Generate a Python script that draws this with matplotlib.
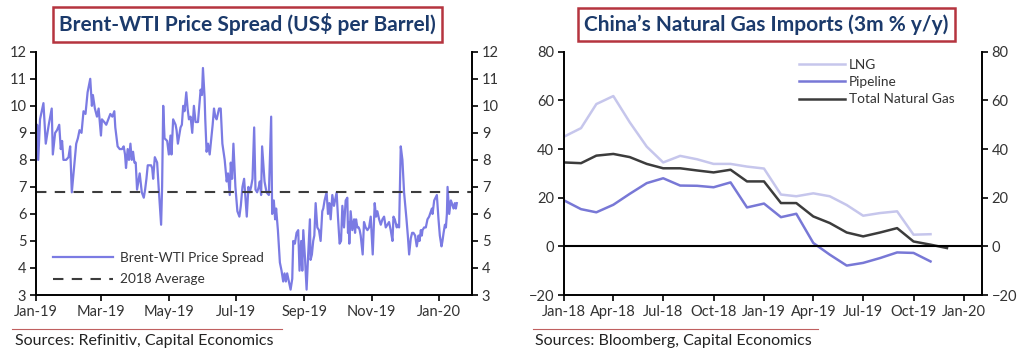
import numpy as np
import pandas as pd
import matplotlib
matplotlib.use("Agg")
import matplotlib.pyplot as plt
import matplotlib.dates as mdates

plt.rcParams['font.family'] = ['Lato', 'DejaVu Sans']

# Brent-WTI spread, days counted from 1 Jan 2019
spread_days = [
    0, 1, 2, 3.6, 6.7, 8.8, 11.5, 14.2, 15.2, 17.3, 19, 21, 22.4, 23.6, 24.8, 27.3, 29.4, 30.9,
    32.4, 34.2, 36.4, 37.9, 39.4, 41.2, 43, 44.8, 46.7, 49.1, 50.6, 51.5, 53.3, 55.2, 56.7, 58.8,
    59.7, 61.8, 63.6, 65.5, 67.3, 69.1, 70.9, 71.8, 73.9, 75.8, 77.9, 79.4, 80.6, 81.5, 83, 84.2,
    85.5, 86.7, 87.9, 89.1, 90.3, 91.5, 93.9, 95.8, 97.6, 98.8, 100, 101.2, 104.2, 105.2, 106.1,
    107.6, 109.7, 111.2, 113.3, 114.2, 115.2, 116.4, 118.8, 120.3, 121.8, 122.7, 124.2, 126.4,
    127.3, 128.5, 130.9, 132.1, 133.3, 134.5, 136.1, 137.3, 138.5, 140, 141.5, 142.4, 143, 144.5,
    146.7, 149.1, 150.3, 151.2, 152.7, 153.3, 154.5, 155.8, 157.3, 158.8, 160, 161.2, 162.4,
    163.6, 165.8, 167.3, 168.8, 170.9, 172.7, 173.9, 175.5, 176.4, 177.6, 178.8, 180.6, 182.4,
    184.2, 185.5, 187, 188.5, 189.7, 190.9, 192.4, 193.6, 194.8, 196.1, 197.6,
    198.8, 200.3, 201.8, 202.7, 203.9, 204.8, 207, 208.8, 210.9, 213, 213.9, 215.4, 216.6, 217.5,
    219.1, 220.9, 222.4, 223.9, 225.1, 226.3, 227.5, 229.1, 230.6, 232.1, 233, 234.5, 236, 237.5,
    238.7, 240.2, 241.2, 242.1, 243.6, 245.1, 246.3, 248.1, 248.7, 249.9, 251.1, 252.1, 253.3,
    254.8, 256.3, 257.8, 259.3, 260.2, 261.4, 263.2, 264.5, 265.7, 266.9, 268.4, 269.9, 272.3,
    273.5, 275, 276.3, 277.5, 279, 280.5, 282, 282.6, 283.2, 283.8, 285, 286.5, 288.1, 289, 289.9,
    291.1, 292.3, 293.2, 294.1, 295.9, 297.1, 298.6, 300.2, 301.7, 303.2, 305, 306.8, 308, 309.2,
    310.8, 312.3, 313.8, 315.3, 316.8, 318.3, 319.8, 321.3, 322.9, 323.8, 325, 326.2, 326.8,
    327.4, 328.9, 330.4, 331.9, 333.4, 335.6, 336.8, 338, 339.5, 340.7, 341.9, 343.4, 344.9,
    346.5, 347.4, 348.6, 349.5, 350.1, 351.6, 353.1, 354.6, 356.1, 357.7, 358.6, 359.2, 360.7,
    363.1, 364.6, 365.8, 367.3, 368.2, 369.2, 370.4, 371, 371.3, 372.2, 372.8, 374.3, 375.8,
    376.7, 378.2, 379.4, 380.3, 381.2,
]
spread = [
    8.0, 9.3, 8.0, 9.5, 10.1, 8.6, 9.3, 9.9, 8.2, 9.0, 9.1, 9.3, 8.4, 8.7, 8.0, 8.0, 8.1, 8.5,
    6.8, 7.6, 8.6, 8.8, 9.1, 9.0, 9.8, 9.7, 10.5, 11.0, 10.0, 10.4, 9.9, 9.6, 9.9, 8.9,
    9.5, 9.4, 9.3, 9.5, 9.7, 9.6, 9.8, 9.2, 8.5, 8.4, 8.4, 8.5, 8.2, 7.7, 8.4, 8.0,
    8.6, 8.0, 8.3, 7.9, 7.9, 6.9, 7.5, 6.8, 6.6, 6.9, 7.3, 7.8, 7.8, 7.7, 7.3,
    8.1, 7.9, 6.9, 5.6, 7.0, 10.0, 8.8, 8.7, 8.2, 8.9, 8.2, 9.5, 9.3,
    9.1, 8.6, 9.2, 9.3, 10.0, 9.8, 10.5, 9.9, 9.5, 9.6, 9.0, 9.6, 10.0, 9.4,
    9.4, 10.6, 10.4, 11.4, 10.3, 9.5, 8.3, 8.6, 8.2, 8.8, 9.3, 9.9, 9.6,
    9.5, 9.9, 9.9, 8.6, 8.0, 7.2, 7.5, 6.7, 7.9, 7.3, 8.6, 7.0, 6.1,
    5.9, 6.3, 7.0, 7.3, 6.6, 5.9, 7.0, 6.8, 7.0, 7.3, 9.2,
    6.9, 6.8, 7.0, 7.2, 6.7, 8.5, 7.2, 6.8, 6.7, 9.6, 6.0, 6.5, 5.8, 6.2,
    5.4, 4.2, 3.9, 3.5, 3.8, 3.5, 3.8, 3.5, 3.2, 3.6, 5.0, 4.9, 5.3, 5.4,
    3.9, 5.0, 3.9, 5.4, 4.4, 3.2, 4.3, 5.8, 4.3, 4.5, 5.0, 5.2, 6.4,
    5.5, 5.4, 5.0, 6.1, 6.2, 6.5, 6.8, 6.0, 6.4, 5.8, 6.7, 6.3, 6.8,
    5.9, 4.9, 5.0, 6.3, 5.5, 6.5, 6.6, 5.3, 5.7, 4.9, 6.1, 5.4, 5.8, 5.3, 5.8,
    5.5, 5.5, 5.4, 5.2, 4.5, 5.7, 5.5, 5.4, 5.5, 5.9, 4.5, 6.4, 5.9, 6.1,
    5.8, 5.6, 5.8, 5.9, 5.5, 5.6, 5.7, 5.4, 5.0, 5.9, 5.8, 5.6, 5.5,
    5.6, 5.5, 8.5, 8.0, 6.8, 5.8, 5.2, 4.5, 5.1, 5.3, 5.3, 5.2, 4.8,
    5.2, 5.0, 5.4, 5.2, 5.4, 5.5, 5.5, 5.8, 5.9, 6.1, 6.2, 6.0, 6.5,
    6.7, 5.8, 5.2, 4.8, 5.0, 5.3, 5.6, 5.6, 5.5, 6.0, 7.0, 6.0, 6.5,
    6.4, 6.2, 6.4, 6.2, 6.4,
]
avg_2018 = 6.8

# China natural gas imports, monthly from Jan-18
gas_months = pd.date_range("2018-01-01", "2019-12-01", freq="MS")
lng = [45.1, 48.6, 58.5, 61.8, 51.0, 41.0, 34.5, 37.2, 35.8, 33.9, 33.9, 32.8,
       32.0, 21.3, 20.6, 21.8, 20.6, 17.0, 12.6, 13.7, 14.4, 4.8, 5.0, np.nan]
pipeline = [18.9, 15.3, 14.0, 17.1, 21.6, 26.0, 28.0, 25.0, 24.9, 24.3, 26.3, 16.0,
            17.6, 12.0, 13.4, 1.4, -3.4, -7.9, -6.8, -4.8, -2.5, -2.7, -6.2, np.nan]
total = [34.5, 34.2, 37.3, 38.0, 36.7, 33.9, 32.1, 32.1, 31.2, 30.4, 31.5, 26.7,
         26.7, 17.8, 17.8, 12.3, 9.6, 5.7, 4.1, 5.7, 7.5, 2.0, 0.7, -0.7]

title_color = "#1b3a6b"
box_color = "#b5343f"
spread_color = "#7b7be3"
lng_color = "#c6c6ec"
pipe_color = "#7878d6"
dark = "#3c3c3c"

fig = plt.figure(figsize=(10.24, 3.53), dpi=100)
ax1 = fig.add_axes([0.0352, 0.1643, 0.4258, 0.689])
ax2 = fig.add_axes([0.5508, 0.1643, 0.4082, 0.689])

start = pd.Timestamp("2019-01-01")
spread_dates = start + pd.to_timedelta(spread_days, unit="D")
ax1.plot(spread_dates, spread, color=spread_color, lw=1.6, label="Brent-WTI Price Spread")
ax1.axhline(avg_2018, color=dark, lw=1.5, ls=(0, (5, 4)), label="2018 Average")
ax1.set_xlim(start, pd.Timestamp("2020-01-31"))
ax1.set_ylim(3, 12)
ax1.set_yticks(range(3, 13))
ax1.xaxis.set_major_locator(mdates.MonthLocator(bymonth=[1, 3, 5, 7, 9, 11]))
ax1.xaxis.set_major_formatter(mdates.DateFormatter("%b-%y"))
ax1.legend(loc="lower left", bbox_to_anchor=(0.018, 0.0), frameon=False, fontsize=9.8,
           handlelength=4.4, handletextpad=0.5, labelspacing=0.7, borderaxespad=0.3,
           labelcolor="#333333")

ax2.plot(gas_months, lng, color=lng_color, lw=1.8, label="LNG")
ax2.plot(gas_months, pipeline, color=pipe_color, lw=1.8, label="Pipeline")
ax2.plot(gas_months, total, color=dark, lw=1.8, label="Total Natural Gas")
ax2.axhline(0, color="black", lw=1.5)
ax2.set_xlim(pd.Timestamp("2018-01-01"), pd.Timestamp("2020-02-03"))
ax2.set_ylim(-20, 80)
ax2.set_yticks(range(-20, 81, 20))
ax2.xaxis.set_major_locator(mdates.MonthLocator(bymonth=[1, 4, 7, 10]))
ax2.xaxis.set_major_formatter(mdates.DateFormatter("%b-%y"))
ax2.legend(loc="upper left", bbox_to_anchor=(0.545, 1.0), frameon=False, fontsize=9.8,
           handlelength=3.4, handletextpad=0.3, labelspacing=0.4, borderaxespad=0.1,
           labelcolor="#333333")

for ax in (ax1, ax2):
    ax.spines["top"].set_visible(False)
    for s in ("left", "right", "bottom"):
        ax.spines[s].set_linewidth(1.4)
        ax.spines[s].set_color("black")
    ax.tick_params(axis="both", direction="out", length=4, width=1.2, labelsize=10.5,
                   labelcolor="#333333", pad=3)
    ax.tick_params(axis="y", right=True, labelright=True)

fig.text(0.2417, 0.9306, "Brent-WTI Price Spread (US$ per Barrel)", ha="center", va="center",
         fontsize=15, fontweight="bold", color=title_color,
         bbox=dict(boxstyle="square,pad=0.3", fc="white", ec=box_color, lw=1.8))
fig.text(0.7485, 0.9306, "China\u2019s Natural Gas Imports (3m % y/y)", ha="center", va="center",
         fontsize=15, fontweight="bold", color=title_color,
         bbox=dict(boxstyle="square,pad=0.3", fc="white", ec=box_color, lw=1.8))

fig.add_artist(plt.Line2D([12 / 1024, 282 / 1024], [1 - 329 / 353] * 2, color="#c06060", lw=0.8))
fig.add_artist(plt.Line2D([533 / 1024, 818 / 1024], [1 - 329 / 353] * 2, color="#c06060", lw=0.8))
fig.text(15 / 1024, 1 - 341 / 353, "Sources: Refinitiv, Capital Economics", ha="left", va="center",
         fontsize=11.5, color="#222222")
fig.text(535 / 1024, 1 - 341 / 353, "Sources: Bloomberg, Capital Economics", ha="left", va="center",
         fontsize=11.5, color="#222222")

fig.savefig("out.png", dpi=100)
